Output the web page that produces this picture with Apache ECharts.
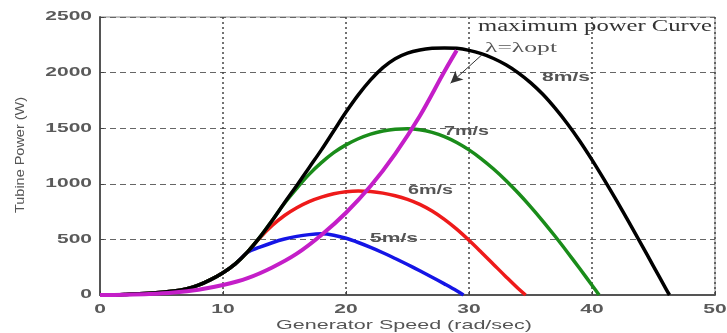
<!DOCTYPE html>
<html><head><meta charset="utf-8">
<script src="https://cdn.jsdelivr.net/npm/echarts@6/dist/echarts.min.js"></script>
<style>html,body{margin:0;padding:0;background:#fff}#c{width:727px;height:333px}</style>
</head><body><div id="c"></div>
<script>
// ---- tick labels ----
const xTicks = [0, 10, 20, 30, 40, 50];
const yTicks = [0, 500, 1000, 1500, 2000, 2500];

// ---- 8 m/s ----
const blackSpeed = [0,2,4,6,7,8,9,10,11,12,13,14,15,16,17,18,19,20,21,22,23,24,25,26,27,28,29,30,31,32,33,34,35,36,37,38,39,40,41,42,43,44,45,46,46.3];
const blackPower = [0,5,15,35,55,88,138,200,280,388,520,670,830,985,1145,1305,1475,1645,1800,1935,2045,2125,2175,2203,2218,2222,2218,2200,2170,2127,2070,1998,1910,1805,1680,1540,1385,1215,1035,848,655,458,258,58,0];
// ---- 7 m/s ----
const greenSpeed = [0,2,4,6,7,8,9,10,11,12,13,14,15,16,17,18,19,20,21,22,23,24,25,26,27,28,29,30,31,32,33,34,35,36,37,38,39,40,40.58];
const greenPower = [0,5,15,35,55,88,138,200,280,388,520,670,825,960,1085,1190,1280,1350,1405,1447,1475,1491,1495,1486,1462,1425,1372,1305,1225,1133,1030,917,795,665,528,385,238,88,0];
// ---- 6 m/s ----
const redSpeed = [0,2,4,6,7,8,9,10,11,12,13,14,15,16,17,18,19,20,21,22,23,24,25,26,27,28,29,30,31,32,33,34,34.6];
const redPower = [0,5,15,35,55,88,138,200,280,388,515,625,715,785,840,880,910,928,935,930,916,893,860,815,755,680,592,492,385,275,165,58,0];
// ---- 5 m/s ----
const blueSpeed = [0,2,4,6,7,8,9,10,11,12,13,14,15,16,17,18,19,20,21,22,23,24,25,26,27,28,29,29.55];
const bluePower = [0,5,15,35,55,88,138,200,280,385,430,470,503,527,543,550,538,510,472,428,380,328,274,218,160,100,38,0];
// ---- maximum power curve ----
const magSpeed = [0,2,4,6,8,10,12,14,16,18,20,22,24,26,28,29];
const magPower = [0,2,8,22,48,90,152,248,372,540,740,980,1270,1610,2010,2200];

const zip = (xs, ys) => xs.map((x, i) => [x, ys[i]]);

function mk(name, xs, ys, color, w) {
  return {
    name, type: 'line', data: zip(xs, ys), smooth: 0.35, showSymbol: false,
    symbol: 'none', lineStyle: { color, width: w }, silent: true
  };
}

const series = [
  mk('5m/s', blueSpeed, bluePower, '#1515e6', 3.5),
  mk('6m/s', redSpeed, redPower, '#ee1a1a', 3.5),
  mk('7m/s', greenSpeed, greenPower, '#1a8c1a', 3.5),
  mk('8m/s', blackSpeed, blackPower, '#000000', 3.5),
  mk('max', magSpeed, magPower, '#c41ec8', 4)
];
series[4].markLine = {
  silent: true, symbol: ['none', 'arrow'], symbolSize: [9, 12],
  lineStyle: { color: '#333', width: 1, type: 'solid' }, label: { show: false },
  data: [[{ coord: [31.1, 2165] }, { coord: [28.5, 1905] }]]
};

const chart = echarts.init(document.getElementById('c'), null, { renderer: 'canvas' });
chart.setOption({
  animation: false,
  grid: { left: 100, right: 12, top: 17, bottom: 38, show: true, borderColor: '#888', borderWidth: 1 },
  xAxis: {
    type: 'value', min: 0, max: 50, interval: 10,
    axisLine: { show: true, onZero: false, lineStyle: { color: '#555', width: 2 } },
    axisTick: { show: true, inside: true, length: 4, lineStyle: { color: '#444' } },
    axisLabel: { show: false },
    splitLine: { show: true, lineStyle: { color: '#444', width: 1.5, type: [2, 3] } }
  },
  yAxis: {
    type: 'value', min: 0, max: 2500, interval: 500,
    axisLine: { show: true, lineStyle: { color: '#555', width: 2 } },
    axisTick: { show: true, inside: true, length: 4, lineStyle: { color: '#444' } },
    axisLabel: { show: false },
    splitLine: { show: true, lineStyle: { color: '#666', width: 1, type: [6, 4] } }
  },
  series
});

// ---- text drawn with a horizontal stretch, as in the reference ----
const cv = document.createElement('canvas').getContext('2d');
function fit(text, font, target) { cv.font = font; return target / cv.measureText(text).width; }
function txt(text, x, y, o) {
  const font = (o.weight || 'normal') + ' ' + o.size + 'px ' + (o.family || '"Liberation Sans", Arial, sans-serif');
  const sx = o.width ? fit(text, font, o.width) : (o.sx || 1);
  return {
    type: 'text', x, y, scaleX: sx, rotation: o.rot || 0, silent: true, z: 100,
    style: { text, font, fill: o.color || '#555', align: o.align || 'left', verticalAlign: 'middle' }
  };
}
const g = [];
yTicks.forEach(v => {
  const py = chart.convertToPixel({ yAxisIndex: 0 }, v);
  g.push(txt(String(v), 92, py, { size: 12, weight: 'bold', sx: 1.75, align: 'right', color: '#5a5a5a' }));
});
xTicks.forEach(v => {
  const px = chart.convertToPixel({ xAxisIndex: 0 }, v);
  g.push(txt(String(v), px, 310, { size: 12, weight: 'bold', sx: 1.75, align: 'center', color: '#5a5a5a' }));
});
g.push(txt('Generator Speed (rad/sec)', 404, 325, { size: 13, width: 256, align: 'center', color: '#555' }));
g.push(txt('Tubine Power (W)', 20, 155, { size: 13, width: 116, align: 'center', color: '#555', rot: Math.PI / 2 }));
const serif = '"Liberation Serif", "Times New Roman", serif';
g.push(txt('maximum power Curve', 478, 27, { size: 16, width: 234, family: serif, color: '#333' }));
g.push(txt('λ=λopt', 485, 48, { size: 14, width: 72, family: serif, color: '#555' }));
g.push(txt('8m/s', 542, 77, { size: 13, weight: 'bold', width: 48, color: '#555' }));
g.push(txt('7m/s', 444, 131, { size: 13, weight: 'bold', width: 45, color: '#555' }));
g.push(txt('6m/s', 408, 190, { size: 13, weight: 'bold', width: 45, color: '#555' }));
g.push(txt('5m/s', 370, 238, { size: 13, weight: 'bold', width: 48, color: '#555' }));
chart.setOption({ graphic: g });
</script></body></html>
